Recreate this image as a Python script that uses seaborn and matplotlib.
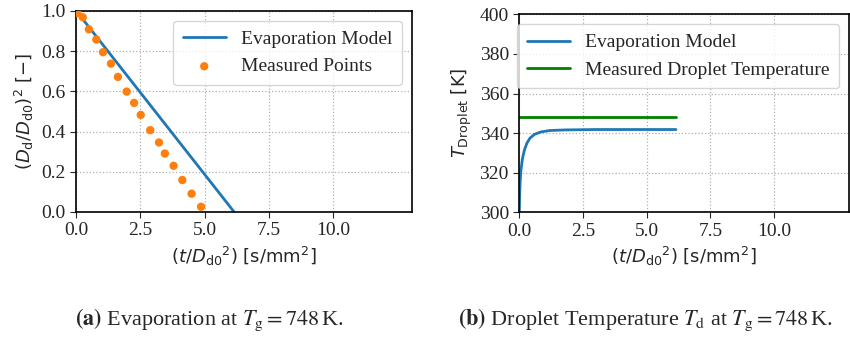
import matplotlib
matplotlib.use("Agg")
import matplotlib.pyplot as plt
import seaborn as sns
import pandas as pd

# ---- data ----
model_t = [0.0, 6.15]
model_d2 = [1.0, 0.0]

meas_t = [0.04, 0.25, 0.49, 0.78, 1.04, 1.35, 1.62, 1.96, 2.25, 2.51, 2.88,
          3.22, 3.45, 3.79, 4.13, 4.49, 4.86]
meas_d2 = [0.99, 0.969, 0.909, 0.858, 0.795, 0.738, 0.672, 0.599, 0.543,
           0.483, 0.407, 0.346, 0.291, 0.230, 0.159, 0.091, 0.026]

temp_t = [0.0, 0.01, 0.03, 0.06, 0.12, 0.2, 0.3, 0.42, 0.6, 0.85, 1.2,
          1.8, 3.0, 4.0, 5.0, 6.15]
temp_T = [300.0, 307.0, 315.0, 321.0, 327.0, 331.5, 335.0, 337.5, 339.4,
          340.6, 341.3, 341.6, 341.8, 341.8, 341.8, 341.8]

meas_T_t = [0.0, 6.15]
meas_T = [348.0, 348.0]

xticks = [0.0, 2.5, 5.0, 7.5, 10.0]
xtick_labels = ["0.0", "2.5", "5.0", "7.5", "10.0"]

sns.set_style("ticks")
plt.rcParams["font.family"] = ["Liberation Serif", "DejaVu Serif"]
plt.rcParams["mathtext.fontset"] = "dejavusans"

fig = plt.figure(figsize=(8.5, 3.38), dpi=100)
ax1 = fig.add_axes([0.0898, 0.3728, 0.3949, 0.5947])
ax2 = fig.add_axes([0.611, 0.372, 0.388, 0.5856])

df_model = pd.DataFrame({"t": model_t, "d2": model_d2})
df_meas = pd.DataFrame({"t": meas_t, "d2": meas_d2})
df_temp = pd.DataFrame({"t": temp_t, "T": temp_T})
df_mT = pd.DataFrame({"t": meas_T_t, "T": meas_T})

sns.lineplot(data=df_model, x="t", y="d2", ax=ax1, color="#1f77b4", lw=2,
             label="Evaporation Model")
sns.scatterplot(data=df_meas, x="t", y="d2", ax=ax1, color="#ff7f0e", s=36,
                edgecolor="none", label="Measured Points", zorder=3)

sns.lineplot(data=df_temp, x="t", y="T", ax=ax2, color="#1f77b4", lw=2,
             label="Evaporation Model")
sns.lineplot(data=df_mT, x="t", y="T", ax=ax2, color="green", lw=2,
             label="Measured Droplet Temperature")

lab_kw = dict(fontsize=13, family="DejaVu Sans", math_fontfamily="dejavusans")
for ax in (ax1, ax2):
    ax.set_xlim(0, 13.08)
    ax.set_xticks(xticks)
    ax.set_xticklabels(xtick_labels)
    ax.grid(True, linestyle=":", color="#b0b0b0", lw=0.9)
    ax.tick_params(labelsize=14, direction="out", length=4)
    for s in ax.spines.values():
        s.set_visible(True)
        s.set_linewidth(1.2)
        s.set_color("black")
    ax.set_xlabel(r"$(t/{D_\mathrm{d0}}^2)$ [s/mm$^2$]", **lab_kw)
    ax.legend(loc="upper right", fontsize=14, handlelength=2.2,
              borderpad=0.5, labelspacing=0.5, framealpha=0.8,
              edgecolor="#cccccc")

ax1.set_ylim(0, 1.0)
ax1.set_yticks([0.0, 0.2, 0.4, 0.6, 0.8, 1.0])
ax1.set_ylabel(r"$(D_\mathrm{d}/D_\mathrm{d0})^2$ [$-$]", **lab_kw)

ax2.set_xlim(0, 12.95)
ax2.set_ylim(300, 400)
ax2.set_yticks([300, 320, 340, 360, 380, 400])
ax2.set_ylabel(r"$T_\mathrm{Droplet}$ [K]", **lab_kw)

cap_kw = dict(fontsize=16, ha="center", va="center", math_fontfamily="stix")
fig.text(0.246, 0.053, r"$\mathbf{(a)}$ Evaporation at $T_\mathrm{g}=748\,$K.", **cap_kw)
fig.text(0.759, 0.053, r"$\mathbf{(b)}$ Droplet Temperature $T_\mathrm{d}$ at $T_\mathrm{g}=748\,$K.", **cap_kw)

fig.savefig("out.png", dpi=100)
